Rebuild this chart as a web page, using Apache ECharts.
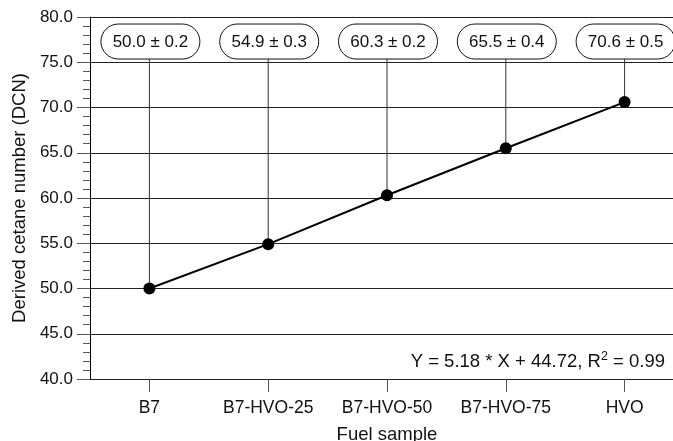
<!DOCTYPE html>
<html>
<head>
<meta charset="utf-8">
<script src="https://cdn.jsdelivr.net/npm/echarts@6/dist/echarts.min.js"></script>
<style>
  html, body { margin: 0; padding: 0; background: #fff; overflow: hidden; }
  #chart { width: 673px; height: 441px; }
</style>
</head>
<body>
<div id="chart"></div>
<script>
// Fuel samples and their derived cetane numbers (mean ± deviation)
const fuels = ['B7', 'B7-HVO-25', 'B7-HVO-50', 'B7-HVO-75', 'HVO'];
const dcn = [50.0, 54.9, 60.3, 65.5, 70.6];
const dcnErr = [0.2, 0.3, 0.2, 0.4, 0.5];
const yTicks = { min: 40, max: 80, step: 5 };
const fitText = ['Y = 5.18 * X + 44.72, R', '2', ' = 0.99'];
const boxLevel = 77.29; // value level where the annotation pills sit

const FONT = '"Liberation Sans", Arial, sans-serif';
const chart = echarts.init(document.getElementById('chart'), null, { renderer: 'canvas' });

const pillData = dcn.map((v, i) => [i, v, dcnErr[i]]);

chart.setOption({
  animation: false,
  backgroundColor: '#fff',
  textStyle: { fontFamily: FONT, color: '#000' },
  // fixed plot rectangle; it runs slightly past the right edge of the canvas
  grid: { left: 90, right: -11, top: 17, bottom: 62, containLabel: false, outerBoundsMode: 'none' },
  xAxis: {
    type: 'category',
    data: fuels,
    boundaryGap: true,
    name: 'Fuel sample',
    nameLocation: 'middle',
    nameGap: 46,
    nameTextStyle: { fontSize: 18.5, color: '#111', fontFamily: FONT },
    axisLine: { show: false },
    axisTick: { show: true, alignWithLabel: true, length: 13, lineStyle: { color: '#555', width: 1 } },
    axisLabel: { fontSize: 17.5, color: '#111', margin: 20, fontFamily: FONT, interval: 0, hideOverlap: false },
    splitLine: { show: false }
  },
  yAxis: {
    type: 'value',
    min: yTicks.min,
    max: yTicks.max,
    interval: yTicks.step,
    name: 'Derived cetane number (DCN)',
    nameLocation: 'middle',
    nameGap: 52,
    nameTextStyle: { fontSize: 18.5, color: '#111', fontFamily: FONT },
    axisLine: { show: true, lineStyle: { color: '#000', width: 1 } },
    axisTick: { show: true, inside: false, length: 13, lineStyle: { color: '#555', width: 1 } },
    minorTick: { show: true, splitNumber: 5, length: 7, lineStyle: { color: '#555', width: 1 } },
    axisLabel: { fontSize: 17, color: '#111', margin: 17, fontFamily: FONT,
      formatter: v => v.toFixed(1) },
    splitLine: { show: true, lineStyle: { color: '#222', width: 1 } }
  },
  series: [
    {
      // leader lines and value pills
      type: 'custom',
      z: 1,
      data: pillData,
      renderItem: (params, api) => {
        const pt = api.coord([api.value(0), api.value(1)]);
        const top = api.coord([api.value(0), boxLevel]);
        const w = 99, h = 35;
        const label = api.value(1).toFixed(1) + ' \u00b1 ' + api.value(2).toFixed(1);
        return {
          type: 'group',
          children: [
            { type: 'line', shape: { x1: pt[0], y1: pt[1], x2: pt[0], y2: top[1] + h / 2 },
              style: { stroke: '#333', lineWidth: 1 } },
            { type: 'rect', shape: { x: top[0] - w / 2 + 1, y: top[1] - h / 2, width: w, height: h, r: h / 2 },
              style: { fill: '#fff', stroke: '#111', lineWidth: 1 } },
            { type: 'text', x: top[0] + 1, y: top[1] + 1,
              style: { text: label, fontSize: 17, fontFamily: FONT, fill: '#111',
                align: 'center', verticalAlign: 'middle' } }
          ]
        };
      }
    },
    {
      type: 'line',
      z: 3,
      data: dcn,
      symbol: 'circle',
      symbolSize: 12,
      lineStyle: { color: '#000', width: 2 },
      itemStyle: { color: '#000' }
    }
  ],
  graphic: [
    {
      type: 'text',
      right: 8,
      top: 350,
      style: {
        text: '{a|' + fitText[0] + '}{s|' + fitText[1] + '}{a|' + fitText[2] + '}',
        rich: {
          a: { fontSize: 18.5, fontFamily: FONT, fill: '#111', color: '#111' },
          s: { fontSize: 12.5, fontFamily: FONT, fill: '#111', color: '#111', padding: [0, 0, 10, 0] }
        }
      }
    }
  ]
});
</script>
</body>
</html>
